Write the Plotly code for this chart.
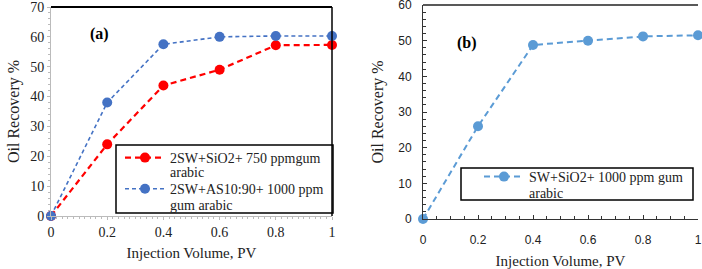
import plotly.graph_objects as go

pv = [0, 0.2, 0.4, 0.6, 0.8, 1.0]
red_a = [0, 24.0, 43.7, 49.0, 57.2, 57.3]
blue_a = [0, 38.0, 57.5, 60.0, 60.3, 60.3]
blue_b = [0, 26.0, 48.8, 50.0, 51.2, 51.5]

name_red = ["2SW+SiO2+ 750 ppmgum", "arabic"]
name_blue = ["2SW+AS10:90+ 1000 ppm", "gum arabic"]
name_b = ["SW+SiO2+ 1000 ppm gum", "arabic"]

xticks = [0, 0.2, 0.4, 0.6, 0.8, 1]
xtext = ["0", "0.2", "0.4", "0.6", "0.8", "1"]

W, H = 702, 269
serif = "Liberation Serif, Times New Roman, serif"
sans = "Liberation Sans, Arial, sans-serif"

fig = go.Figure()
fig.add_trace(go.Scatter(x=pv, y=red_a, name=name_red[0], mode="lines+markers",
                         line=dict(color="#FF0000", width=2.2, dash="6px,4px"),
                         marker=dict(size=10, color="#FF0000"),
                         xaxis="x", yaxis="y", legend="legend", legendgroup="r",
                         cliponaxis=False))
fig.add_trace(go.Scatter(x=pv, y=blue_a, name=name_blue[0], mode="lines+markers",
                         line=dict(color="#4472C4", width=1.6, dash="4px,3px"),
                         marker=dict(size=10, color="#4472C4"),
                         xaxis="x", yaxis="y", legend="legend", legendgroup="b",
                         cliponaxis=False))
fig.add_trace(go.Scatter(x=pv, y=blue_b, name=name_b[0], mode="lines+markers",
                         line=dict(color="#5B9BD5", width=2, dash="6px,4px"),
                         marker=dict(size=10, color="#5B9BD5"),
                         xaxis="x2", yaxis="y2", legend="legend2", cliponaxis=False))

def px_dom(a, b, total):
    return [a / total, b / total]

fig.update_layout(
    width=W, height=H, margin=dict(l=0, r=0, t=0, b=0, autoexpand=False),
    paper_bgcolor="white", plot_bgcolor="white",
    font=dict(family=serif, size=13, color="#222"),
    xaxis=dict(domain=px_dom(51, 332, W), range=[0, 1], tickvals=xticks, ticktext=xtext,
               automargin=False, ticklabeloverflow="allow",
               showgrid=False, zeroline=False, showline=True, linecolor="#BBBBBB", linewidth=1,
               ticks="outside", ticklen=3, tickcolor="#BBBBBB",
               minor=dict(ticks="outside", ticklen=2, tickcolor="#BBBBBB", dtick=0.02),
               tickfont=dict(family=serif, size=14, color="#222"),
               title=dict(text="Injection Volume, PV", font=dict(family=serif, size=15), standoff=8)),
    yaxis=dict(domain=[(H - 216) / H, (H - 7) / H], range=[0, 70], dtick=10,
               automargin=False, ticklabeloverflow="allow",
               showgrid=False, zeroline=False, showline=True, linecolor="#BBBBBB", linewidth=1,
               ticks="outside", ticklen=3, tickcolor="#BBBBBB",
               minor=dict(ticks="outside", ticklen=2, tickcolor="#BBBBBB", dtick=2),
               tickfont=dict(family=serif, size=14, color="#222"),
               title=dict(text="Oil Recovery %", font=dict(family=serif, size=16), standoff=6)),
    xaxis2=dict(domain=px_dom(423, 698, W), range=[0, 1], tickvals=xticks, ticktext=xtext,
                anchor="y2", automargin=False, ticklabeloverflow="allow",
                showgrid=False, zeroline=False, showline=True, linecolor="#333", linewidth=1,
                ticks="inside", ticklen=4, tickcolor="#333", ticklabelstandoff=10,
                minor=dict(ticks="inside", ticklen=3, tickcolor="#333", dtick=0.05),
                tickfont=dict(family=sans, size=12, color="#222"),
                title=dict(text="Injection Volume, PV", font=dict(family=serif, size=15), standoff=10)),
    yaxis2=dict(domain=[(H - 219) / H, (H - 5) / H], range=[0, 60], dtick=10,
                anchor="x2", automargin=False, ticklabeloverflow="allow",
                showgrid=False, zeroline=False, showline=True, linecolor="#333", linewidth=1,
                ticks="inside", ticklen=4, tickcolor="#333", ticklabelstandoff=8,
                minor=dict(ticks="inside", ticklen=3, tickcolor="#333", dtick=2),
                tickfont=dict(family=sans, size=12, color="#222"),
                title=dict(text="Oil Recovery %", font=dict(family=serif, size=16), standoff=10)),
    legend=dict(x=120 / W, y=1 - 142 / H, xanchor="left", yanchor="top",
                bgcolor="rgba(0,0,0,0)", borderwidth=0,
                font=dict(family=serif, size=14, color="#222"), tracegroupgap=10,
                itemwidth=40),
    legend2=dict(x=479 / W, y=1 - 161 / H, xanchor="left", yanchor="top",
                 bgcolor="rgba(0,0,0,0)", borderwidth=0,
                 font=dict(family=serif, size=14, color="#222"),
                 itemwidth=40),
    showlegend=True,
)

# frame lines (top/right) and legend boxes
fig.add_shape(type="line", xref="x domain", yref="y domain", x0=0, x1=1, y0=1, y1=1,
              line=dict(color="black", width=2))
fig.add_shape(type="line", xref="x domain", yref="y domain", x0=1, x1=1, y0=0, y1=1,
              line=dict(color="black", width=1.5))
fig.add_shape(type="line", xref="x2 domain", yref="y2 domain", x0=0, x1=1, y0=1, y1=1,
              line=dict(color="#222", width=1.5))
fig.add_shape(type="rect", xref="paper", yref="paper",
              x0=116 / W, x1=333 / W, y0=1 - 213 / H, y1=1 - 145 / H,
              line=dict(color="black", width=1.5))
fig.add_shape(type="rect", xref="paper", yref="paper",
              x0=461 / W, x1=693 / W, y0=1 - 200 / H, y1=1 - 168 / H,
              line=dict(color="black", width=1.5))

# second lines of legend labels
for txt, xp, yp in [(name_red[1], 168, 172), (name_blue[1], 168, 205), (name_b[1], 527, 193)]:
    fig.add_annotation(text=txt, xref="paper", yref="paper", x=xp / W, y=1 - yp / H,
                       xanchor="left", yanchor="middle", showarrow=False,
                       font=dict(family=serif, size=14, color="#222"))

fig.add_annotation(text="<b>(a)</b>", xref="paper", yref="paper", x=88 / W, y=1 - 23 / H,
                   showarrow=False, font=dict(family=serif, size=16, color="black"))
fig.add_annotation(text="<b>(b)</b>", xref="paper", yref="paper", x=467 / W, y=1 - 32 / H,
                   showarrow=False, font=dict(family=serif, size=16, color="black"))

fig.write_html("out.html", config={"displayModeBar": False},
               post_script="document.body.style.margin='0';document.body.style.padding='0';")
